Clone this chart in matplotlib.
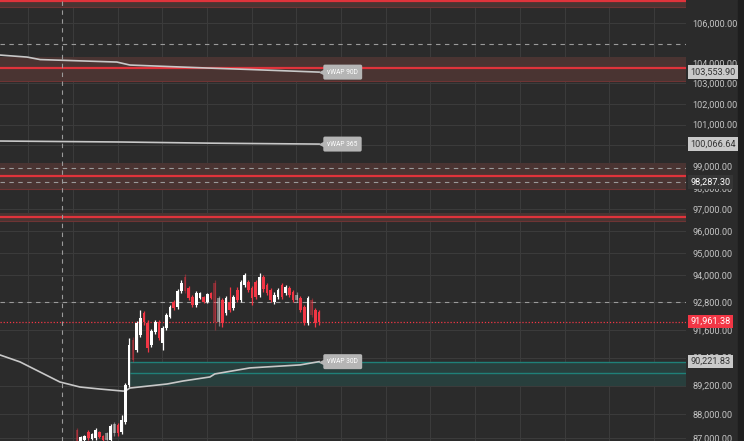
import numpy as np
import matplotlib
matplotlib.use("Agg")
import matplotlib.pyplot as plt
from matplotlib.ticker import NullLocator, FixedLocator
from matplotlib.patches import Rectangle

plt.rcParams['font.family'] = ['Roboto', 'DejaVu Sans']

# 蜡烛数据 (index, open, high, low, close)
opens = [87330, 86870, 86910, 87250, 86960, 87000, 87250, 87080, 86910, 86910,
         87210, 87540, 87250, 87670, 89230, 91160, 90730, 91370, 92340, 91900,
         90940, 91500, 91940, 91030, 91680, 92160, 92820, 92600, 93300, 93930,
         93440, 93030, 92690, 92990, 93030, 92820, 93210, 93660, 91940, 92900,
         92340, 92820, 92560, 93350, 92900, 93570, 93710, 93440, 93710, 93120,
         93930, 93570, 93350, 92820, 93030, 93570, 93210, 93440, 93260, 92900,
         92990, 92600, 91900, 92900, 92470, 92380]
highs = [87420, 87080, 87120, 87330, 87200, 87420, 87290, 87120, 87250, 87590,
         87670, 87630, 87960, 89310, 91240, 91290, 91990, 92470, 92420, 92030,
         91640, 92030, 92030, 91770, 92340, 92690, 92910, 93390, 93800, 94070,
         93530, 93120, 93300, 93260, 93080, 93210, 93260, 93800, 93080, 92990,
         93080, 93480, 93120, 93480, 93800, 94110, 93800, 93530, 93800, 94110,
         94020, 93660, 93440, 93260, 93440, 93660, 93570, 93530, 93350, 93260,
         93080, 92690, 93080, 92990, 92560, 92470]
lows = [86700, 86790, 86830, 86910, 86920, 86910, 87000, 86870, 86870, 86870,
        87080, 87080, 87170, 87590, 89140, 90210, 90640, 91290, 91810, 90640,
        90850, 91420, 91160, 90730, 91590, 92120, 92470, 92510, 93210, 93210,
        92910, 92600, 92600, 92950, 92780, 92780, 92950, 91590, 91770, 91720,
        92250, 92380, 92470, 92820, 92820, 93480, 93260, 92690, 92950, 93030,
        93260, 93120, 92820, 92730, 92950, 92950, 93120, 93030, 92820, 92820,
        92380, 91810, 91810, 92160, 91720, 91810]
closes = [86870, 87040, 87080, 87000, 87160, 87330, 87040, 86910, 87210, 87500,
          87590, 87210, 87750, 89230, 90940, 90300, 91900, 92120, 91940, 90810,
          91550, 91940, 91240, 91680, 92250, 92600, 92560, 93300, 93660, 93300,
          92990, 92690, 93210, 93210, 92820, 93170, 92990, 91940, 92990, 91900,
          92990, 92470, 93030, 92900, 93710, 94020, 93350, 92990, 93030, 93930,
          93390, 93210, 92900, 93120, 93350, 93030, 93480, 93120, 92900, 93120,
          92470, 91900, 92990, 92250, 91900, 91961.38]
# 低成交量的蜡烛颜色较暗
dim = [0, 8, 10, 15, 29, 37, 38, 59, 63]

# vWAP 线
vwap90_x = [-20.7, -13.4, -9.9, 10.7, 14.2, 34.9, 46.4, 65]
vwap90_y = [104398, 104298, 104174, 104051, 103903, 103756, 103683, 103553.90]
vwap365_x = [-20.7, 12.0, 36.0, 65]
vwap365_y = [100212, 100165, 100110, 100066.64]
vwap30_x = [-20.7, -15.3, -9.9, -4.6, 0.8, 6.2, 12.3, 12.9, 14.2, 24.2, 28.5,
            35.7, 37.0, 46.4, 59.9, 65]
vwap30_y = [90511, 90211, 89777, 89353, 89139, 89053, 88968, 88968, 89096, 89268,
            89396, 89567, 89696, 89953, 90082, 90221.83]

# 区域 (low, high, line)
red_zones = [(106810, 107400, 107120), (103114, 104298, 103754),
             (97947, 99167, 98558), (96465, 96836, 96650)]
teal_zone = (89182, 90221.83, 89739)
teal_start = 14.2
dashed_levels = [104946, 98920, 98287.30, 92800]
last_price = 91961.38

yticks = [106000, 104000, 103000, 102000, 101000, 100000, 99000, 98000, 97000,
          96000, 95000, 94000, 92800, 91600, 90400, 89200, 88000, 87000]
price_tags = [(103553.90, '103,553.90', '#c9c9c9', '#333333'),
              (100066.64, '100,066.64', '#c9c9c9', '#333333'),
              (98287.30, '98,287.30', '#353535', '#ffffff'),
              (91961.38, '91,961.38', '#f23645', '#ffffff'),
              (90221.83, '90,221.83', '#c9c9c9', '#333333')]
vwap_tags = [(103553.90, 'vWAP 90D'), (100066.64, 'vWAP 365'), (90221.83, 'vWAP 30D')]

bg = '#2b2b2b'
fig = plt.figure(figsize=(7.44, 4.41), dpi=100, facecolor=bg)
fig.patches.append(Rectangle((738 / 744, 0), 6 / 744, 1, transform=fig.transFigure,
                             color='#1e1e1e', zorder=-5))
ax = fig.add_axes([0, 0, 686 / 744, 1])
ax.set_facecolor(bg)
ax.set_yscale('log')
x0, x1 = -20.67, 163.5
ax.set_xlim(x0, x1)
ax.set_ylim(86878, 107170)

# 网格
ax.xaxis.set_major_locator(FixedLocator(np.arange(-13, 170, 12) - 0.1))
ax.yaxis.set_major_locator(FixedLocator(yticks))
ax.yaxis.set_minor_locator(NullLocator())
ax.xaxis.set_minor_locator(NullLocator())
ax.grid(True, color='#3b3b3b', lw=0.8)
ax.set_axisbelow(True)
ax.tick_params(axis='x', length=0, labelbottom=False)
ax.yaxis.tick_right()
ax.set_yticklabels([f'{v:,.2f}' for v in yticks])
ax.tick_params(axis='y', length=0, pad=4.5, labelsize=6.6, labelcolor='#c4c4c4')
for s in ax.spines.values():
    s.set_visible(False)

# 区域
for lo, hi, mid in red_zones:
    ax.axhspan(lo, hi, color='#4a3432', zorder=1, lw=0)
    ax.axhline(lo, color='#6e3434', lw=0.8, zorder=1.1)
    ax.axhline(mid, color='#e0333b', lw=1.6, zorder=1.2)
ax.fill_between([teal_start, x1], teal_zone[0], teal_zone[1], color='#283f3d', lw=0, zorder=1)
ax.hlines([teal_zone[1], teal_zone[2]], teal_start, x1, color='#1f8078', lw=1, zorder=1.2)

for lv in dashed_levels:
    ax.axhline(lv, color='#9a9a9a', lw=0.8, ls=(0, (4, 4)), zorder=1.3)
ax.axhline(last_price, color='#f23645', lw=0.9, ls=(0, (1, 1.5)), zorder=1.3)
ax.axvline(-4.0, color='#9a9a9a', lw=0.8, ls=(0, (4, 4)), zorder=1.3)

# vWAP
for xs, ys in [(vwap90_x, vwap90_y), (vwap365_x, vwap365_y), (vwap30_x, vwap30_y)]:
    ax.plot(xs, ys, color='#c8c8c8', lw=1.2, zorder=2)

# 蜡烛
idx = np.arange(len(opens))
for i in idx:
    o, h, l, c = opens[i], highs[i], lows[i], closes[i]
    col = '#ffffff' if c >= o else '#f23645'
    a = 0.4 if i in dim else 1.0
    ax.vlines(i, l, h, color=col, lw=0.9, alpha=a, zorder=3)
    ax.bar(i, abs(c - o), bottom=min(o, c), width=0.72, color=col, alpha=a, lw=0, zorder=3)

# vWAP 标签
for y, txt in vwap_tags:
    ax.plot(65.7, y, marker='<', ms=6, color='#b5b5b5', mec='none', zorder=4)
    ax.text(67.2, y, txt, fontsize=4.8, color='#ffffff', va='center', ha='left', zorder=5,
            bbox=dict(boxstyle='round,pad=0.6,rounding_size=0.25', fc='#b5b5b5', ec='none'))

# 价格标签
trans = ax.get_yaxis_transform()
for y, txt, fc, tc in price_tags:
    ax.text(1.006, y, txt, transform=trans, fontsize=6.6, color=tc, va='center', ha='left',
            clip_on=False, zorder=6,
            bbox=dict(boxstyle='square,pad=0.25', fc=fc, ec='none'))

fig.savefig('out.png', dpi=100, facecolor=bg)
